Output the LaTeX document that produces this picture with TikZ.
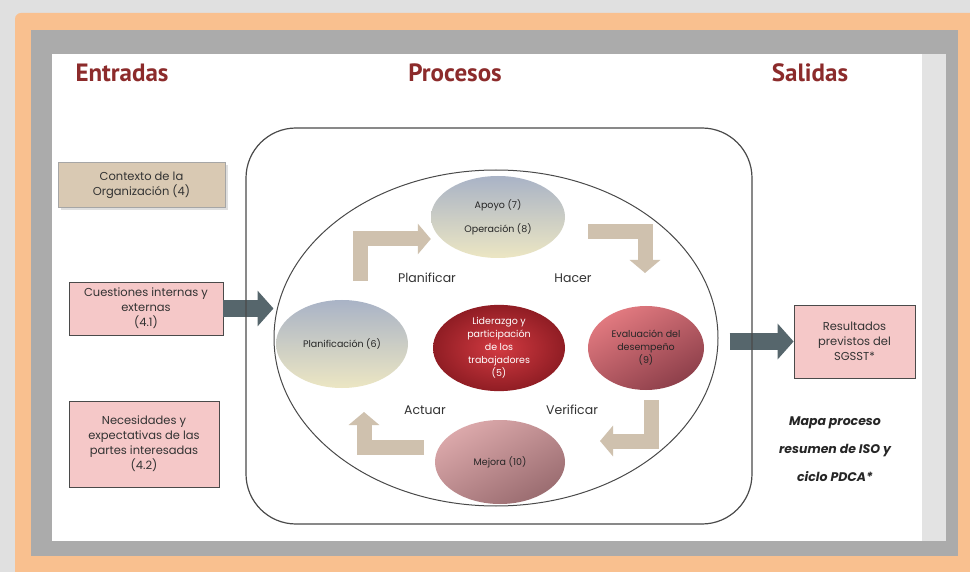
\documentclass[tikz,border=0pt]{standalone}
\usepackage{fontspec}
\setmainfont{Poppins}
\newfontfamily\titlefont{PT Sans}
\usetikzlibrary{shapes.geometric,arrows.meta,shadows}

\definecolor{titlered}{HTML}{8C2B2B}
\definecolor{outergray}{HTML}{E0E0E0}
\definecolor{orangeframe}{HTML}{F9C08F}
\definecolor{bandgray}{HTML}{ABABAB}
\definecolor{bandlight}{HTML}{E3E3E3}
\definecolor{pinkfill}{HTML}{F5C8C8}
\definecolor{tanfill}{HTML}{D9C9B3}
\definecolor{boxline}{HTML}{4A4A4A}
\definecolor{tanarrow}{HTML}{CFC1AE}
\definecolor{slatearrow}{HTML}{56666C}
\definecolor{phasetop}{HTML}{A9B3C6}
\definecolor{phasebottom}{HTML}{ECE6C3}
\definecolor{liderin}{HTML}{D23A41}
\definecolor{liderout}{HTML}{901D24}
\definecolor{evaltop}{HTML}{E27A80}
\definecolor{evalbottom}{HTML}{8D3F4A}
\definecolor{mejtop}{HTML}{DCA9AB}
\definecolor{mejbottom}{HTML}{9A6C70}

\tikzset{
  headline/.style={font=\titlefont\bfseries\fontsize{25}{28}\selectfont, text=titlered},
  inbox/.style={draw=boxline, line width=0.8pt, fill=pinkfill, align=center,
    font=\fontsize{11.5}{15}\selectfont, text=black!80, inner sep=2pt},
  phase/.style={ellipse, inner sep=0pt, align=center, font=\fontsize{9.5}{13}\selectfont,
    text=black!85},
  grayphase/.style={phase, top color=phasetop, bottom color=phasebottom},
  cyclelabel/.style={font=\fontsize{12.5}{14}\selectfont, text=black!80},
  cyclearrow/.style={draw=tanarrow, line width=15pt, line join=miter,
    -{Triangle[length=13pt,width=30pt]}},
  bigarrow/.style={draw=slatearrow, line width=17pt, -{Triangle[length=16pt,width=35pt]}},
}

\begin{document}
\begin{tikzpicture}[x=1pt,y=-1pt]
  \useasboundingbox (0,0) rectangle (970,572);
  % frame
  \fill[outergray] (0,0) rectangle (970,572);
  \fill[orangeframe, rounded corners=6pt] (15,13) rectangle (990,600);
  \fill[bandgray] (31,30) rectangle (958,556);
  \fill[white] (52,54) rectangle (922,541);
  \fill[bandlight] (922,54) rectangle (946,541);

  \node[headline] (entradas) at (122,73) {Entradas};
  \node[headline] (procesos) at (455,73) {Procesos};
  \node[headline] (salidas) at (810,73) {Salidas};

  % inputs and outputs
  \node[inbox, fill=tanfill, draw=gray!70, drop shadow={opacity=0.25},
    minimum width=167pt, minimum height=45pt] (contexto) at (141.5,185)
    {Contexto de la\\Organización (4)};
  \node[inbox, minimum width=154pt, minimum height=53pt] (cuestiones) at (146,308.5)
    {Cuestiones internas y\\externas\\(4.1)};
  \node[inbox, minimum width=150pt, minimum height=86pt] (necesidades) at (144,444)
    {Necesidades y\\expectativas de las\\partes interesadas\\(4.2)};
  \node[inbox, minimum width=121pt, minimum height=73pt] (resultados) at (854.5,341.5)
    {Resultados\\previstos del\\SGSST*};
  \node[font=\bfseries\itshape\fontsize{12.5}{16}\selectfont, align=center, text=black!85]
    (mapa) at (835,449) {Mapa proceso\\[12pt]resumen de ISO y\\[12pt]ciclo PDCA*};

  % process area
  \node[ellipse, draw=boxline, line width=1pt, minimum width=444pt, minimum height=336pt]
    (ciclo) at (496,338) {};
  \draw[bigarrow] (cuestiones.east) -- (cuestiones.east -| ciclo.west);
  \draw[bigarrow] ([xshift=11pt]resultados.west -| ciclo.east) -- (resultados.west);
  \node[draw=boxline, line width=1.2pt, rounded corners=50pt,
    minimum width=506pt, minimum height=396pt] (procbox) at (499,326) {};

  \node[grayphase, minimum width=134pt, minimum height=82pt] (apoyo) at (498,217)
    {Apoyo (7)\\[11pt]Operación (8)};
  \node[grayphase, minimum width=132pt, minimum height=88pt] (planif) at (342,344)
    {Planificación (6)};
  \node[phase, inner color=liderin, outer color=liderout, text=white,
    minimum width=132pt, minimum height=80pt] (liderazgo) at (499,348)
    {Liderazgo y\\participación\\de los\\trabajadores\\(5)};
  \node[phase, top color=evaltop, bottom color=evalbottom, shading angle=30,
    minimum width=116pt, minimum height=84pt] (evaluacion) at (646,348)
    {Evaluación del\\desempeño\\(9)};
  \node[phase, top color=mejtop, bottom color=mejbottom, shading angle=30,
    minimum width=130pt, minimum height=84pt] (mejora) at (500,462)
    {Mejora (10)};

  \node[cyclelabel] (planificar) at (427,278) {Planificar};
  \node[cyclelabel] (hacer) at (573,278) {Hacer};
  \node[cyclelabel] (actuar) at (425,410) {Actuar};
  \node[cyclelabel] (verificar) at (572,410) {Verificar};

  \coordinate (pa) at (360,281);
  \coordinate (pb) at (588,232);
  \coordinate (pc) at (651,400);
  \coordinate (pd) at (424,447);
  \draw[cyclearrow] (pa) -- (360,239) -- (apoyo.west |- 0,239);
  \draw[cyclearrow] (pb) -- (645,232) -- (645,273);
  \draw[cyclearrow] (pc) -- (651,441) -- (600,441);
  \draw[cyclearrow] (pd) -- (364,447) -- (364,412);
\end{tikzpicture}
\end{document}
